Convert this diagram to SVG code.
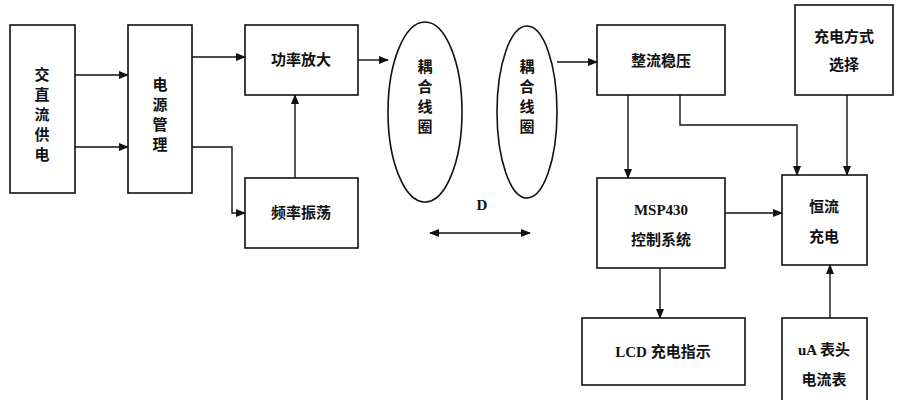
<svg xmlns="http://www.w3.org/2000/svg" width="907" height="400" viewBox="0 0 907 400">
<style>
.b{fill:#fff;stroke:#111;stroke-width:1.6}
.t{font-family:"Liberation Serif","Noto Sans CJK SC",serif;font-size:15px;font-weight:bold;fill:#111;text-anchor:middle}
.c{fill:none;stroke:#111;stroke-width:1.4}
</style>
<defs><marker id="a" markerWidth="10" markerHeight="8" refX="9" refY="4" orient="auto-start-reverse" markerUnits="userSpaceOnUse"><path d="M0,0L10,4L0,8z" fill="#111"/></marker></defs>
<rect width="907" height="400" fill="#fff"/>
<g id="n1"><rect class="b" x="10" y="25" width="65" height="168"/><text class="t" x="42" y="80">交</text><text class="t" x="42" y="100">直</text><text class="t" x="42" y="120">流</text><text class="t" x="42" y="140">供</text><text class="t" x="42" y="160">电</text></g>
<g id="n2"><rect class="b" x="128" y="25" width="64" height="168"/><text class="t" x="160" y="90">电</text><text class="t" x="160" y="110">源</text><text class="t" x="160" y="130">管</text><text class="t" x="160" y="150">理</text></g>
<g id="n3"><rect class="b" x="245" y="25" width="113" height="70"/><text class="t" x="301" y="65">功率放大</text></g>
<g id="n4"><rect class="b" x="245" y="178" width="113" height="70"/><text class="t" x="301" y="218">频率振荡</text></g>
<g id="n5"><ellipse class="b" cx="425" cy="112" rx="37" ry="90"/><text class="t" x="425" y="72">耦</text><text class="t" x="425" y="92">合</text><text class="t" x="425" y="112">线</text><text class="t" x="425" y="132">圈</text></g>
<g id="n6"><ellipse class="b" cx="527" cy="112" rx="30" ry="86"/><text class="t" x="527" y="72">耦</text><text class="t" x="527" y="92">合</text><text class="t" x="527" y="112">线</text><text class="t" x="527" y="132">圈</text></g>
<g id="n7"><rect class="b" x="597" y="25" width="128" height="70"/><text class="t" x="661" y="66">整流稳压</text></g>
<g id="n8"><rect class="b" x="795" y="5" width="98" height="90"/><text class="t" x="844" y="42">充电方式</text><text class="t" x="844" y="70">选择</text></g>
<g id="n9"><rect class="b" x="597" y="178" width="128" height="90"/><text class="t" x="661" y="215">MSP430</text><text class="t" x="661" y="245">控制系统</text></g>
<g id="n10"><rect class="b" x="782" y="175" width="85" height="90"/><text class="t" x="824" y="212">恒流</text><text class="t" x="824" y="242">充电</text></g>
<g id="n11"><rect class="b" x="582" y="318" width="163" height="67"/><text class="t" x="663" y="357">LCD 充电指示</text></g>
<g id="n12"><rect class="b" x="782" y="318" width="85" height="90"/><text class="t" x="824" y="355">uA 表头</text><text class="t" x="824" y="385">电流表</text></g>
<text class="t" x="482" y="210">D</text>
<g id="connectors">
<path class="c" d="M75,75H128" marker-end="url(#a)"/>
<path class="c" d="M75,147H128" marker-end="url(#a)"/>
<path class="c" d="M192,57H245" marker-end="url(#a)"/>
<path class="c" d="M192,147H232V213H245" marker-end="url(#a)"/>
<path class="c" d="M295,178V95" marker-end="url(#a)"/>
<path class="c" d="M358,60H388" marker-end="url(#a)"/>
<path class="c" d="M557,62H597" marker-end="url(#a)"/>
<path class="c" d="M628,95V178" marker-end="url(#a)"/>
<path class="c" d="M680,95V125H797V175" marker-end="url(#a)"/>
<path class="c" d="M847,95V175" marker-end="url(#a)"/>
<path class="c" d="M725,213H782" marker-end="url(#a)"/>
<path class="c" d="M660,268V318" marker-end="url(#a)"/>
<path class="c" d="M830,318V265" marker-end="url(#a)"/>
<path class="c" d="M430,233H530" marker-start="url(#a)" marker-end="url(#a)"/>
</g>
</svg>
